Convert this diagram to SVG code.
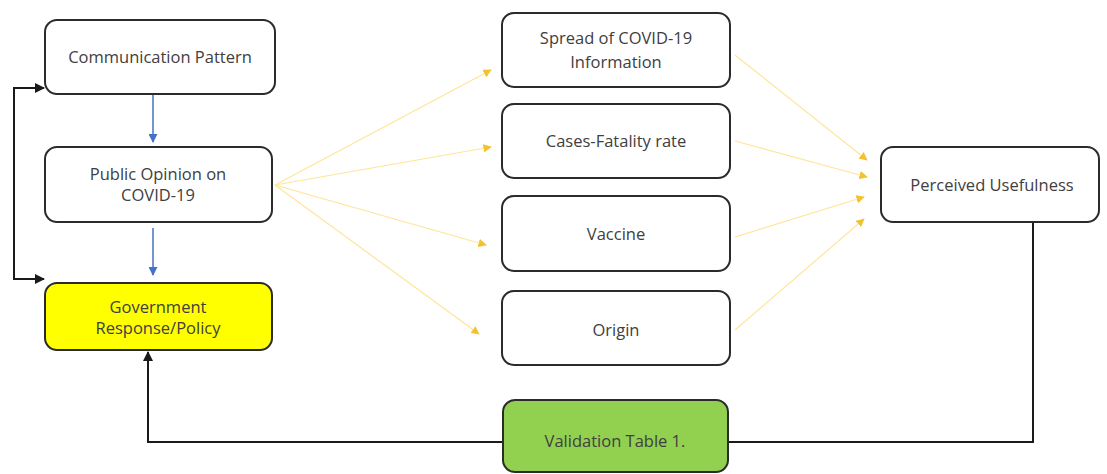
<svg xmlns="http://www.w3.org/2000/svg" width="1107" height="474" viewBox="0 0 1107 474">
<style>
.box{fill:#fff;stroke:#2b2b2b;stroke-width:2}
.yel{fill:#ffff00;stroke:#2b2b2b;stroke-width:2}
.grn{fill:#92d050;stroke:#2b2b2b;stroke-width:2}
text{font-family:"Open Sans",Lato,"Liberation Sans",sans-serif;font-size:16.5px;fill:#404040;text-anchor:middle}
.blk{fill:none;stroke:#1a1a1a;stroke-width:2}
.blu{fill:none;stroke:#4472c4;stroke-width:1.5}
.ylw{fill:none;stroke:#ffe59a;stroke-width:1.2}
</style>
<defs>
<marker id="ab" viewBox="0 0 10 10" refX="9" refY="5" markerWidth="5" markerHeight="5" orient="auto"><path d="M0,0L10,5L0,10z" fill="#1a1a1a"/></marker>
<marker id="au" viewBox="0 0 10 10" refX="9" refY="5" markerWidth="6" markerHeight="6" orient="auto"><path d="M0,0L10,5L0,10z" fill="#4472c4"/></marker>
<marker id="ay" viewBox="0 0 10 10" refX="9" refY="5" markerWidth="7" markerHeight="7" orient="auto"><path d="M0,0L10,5L0,10z" fill="#f2c230"/></marker>
</defs>
<rect width="1107" height="474" fill="#fff"/>
<g id="connectors">
<polyline class="blk" points="44,88 14,88 14,279 44,279" marker-end="url(#ab)"/>
<line class="blk" x1="14" y1="88" x2="44" y2="88" marker-end="url(#ab)"/>
<line class="blu" x1="153" y1="95" x2="153" y2="142" marker-end="url(#au)"/>
<line class="blu" x1="153" y1="228" x2="153" y2="275" marker-end="url(#au)"/>
<line class="ylw" x1="275" y1="185" x2="491" y2="70" marker-end="url(#ay)"/>
<line class="ylw" x1="275" y1="185" x2="491" y2="147" marker-end="url(#ay)"/>
<line class="ylw" x1="275" y1="185" x2="486" y2="245" marker-end="url(#ay)"/>
<line class="ylw" x1="275" y1="185" x2="479" y2="334" marker-end="url(#ay)"/>
<line class="ylw" x1="735" y1="55" x2="867" y2="160" marker-end="url(#ay)"/>
<line class="ylw" x1="735" y1="141" x2="867" y2="177" marker-end="url(#ay)"/>
<line class="ylw" x1="735" y1="237" x2="864" y2="197" marker-end="url(#ay)"/>
<line class="ylw" x1="735" y1="330" x2="864" y2="219" marker-end="url(#ay)"/>
<polyline class="blk" points="1033,222 1033,442 148,442 148,352" marker-end="url(#ab)"/>
</g>
<g id="n-comm"><rect class="box" x="45" y="20" width="230" height="74" rx="12"/><text x="160" y="63">Communication Pattern</text></g>
<g id="n-public"><rect class="box" x="45" y="147" width="227" height="75" rx="12"/><text x="158" y="180">Public Opinion on</text><text x="158" y="201">COVID-19</text></g>
<g id="n-gov"><rect class="yel" x="45" y="283" width="227" height="67" rx="12"/><text x="158" y="313">Government</text><text x="158" y="334">Response/Policy</text></g>
<g id="n-spread"><rect class="box" x="502" y="13" width="228" height="74" rx="12"/><text x="616" y="44">Spread of COVID-19</text><text x="616" y="68">Information</text></g>
<g id="n-cases"><rect class="box" x="502" y="104" width="228" height="74" rx="12"/><text x="616" y="147">Cases-Fatality rate</text></g>
<g id="n-vaccine"><rect class="box" x="502" y="196" width="228" height="75" rx="12"/><text x="616" y="240">Vaccine</text></g>
<g id="n-origin"><rect class="box" x="502" y="291" width="228" height="74" rx="12"/><text x="616" y="336">Origin</text></g>
<g id="n-perceived"><rect class="box" x="881" y="147" width="218" height="75" rx="12"/><text x="992" y="191">Perceived Usefulness</text></g>
<g id="n-valid"><rect class="grn" x="503" y="400" width="225" height="72" rx="12"/><text x="615" y="447">Validation Table 1.</text></g>
</svg>
